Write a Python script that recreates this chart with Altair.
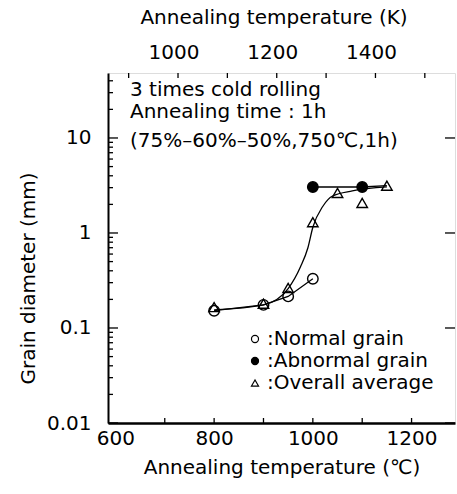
import math

import altair as alt
import pandas as pd

# Measured grain diameters (mm) against annealing temperature (degC)
normal_t = [800, 900, 950, 1000]
normal_d = [0.152, 0.175, 0.215, 0.33]
abnormal_t = [1000, 1100]
abnormal_d = [3.05, 3.05]
overall_t = [800, 900, 950, 1000, 1050, 1100, 1150]
overall_d = [0.166, 0.18, 0.264, 1.30, 2.64, 2.07, 3.15]

# Hand-drawn trend curve through the overall averages
fit_t = [800, 900, 950, 975, 990, 1000, 1020, 1040, 1080, 1150]
fit_d = [0.155, 0.175, 0.26, 0.44, 0.70, 1.15, 1.9, 2.45, 2.77, 3.05]

series_names = ["Normal grain", "Abnormal grain", "Overall average"]

# Axis ticks
x_labels_c = [600, 800, 1000, 1200]
x_ticks_c = [700, 800, 900, 1000, 1100, 1200]
x_labels_k = [1000, 1200, 1400]
x_ticks_k = [900, 1000, 1100, 1200, 1300, 1400, 1500]
y_major = [0.01, 0.1, 1, 10]
y_minor = [m * e for e in (0.01, 0.1, 1, 10) for m in range(2, 10) if m * e < 48]

FONT = "DejaVu Sans"
W, H = 347, 350
X_MIN, X_MAX = 585, 1288
Y_MIN, Y_MAX = 0.01, 48.3

x_c = alt.Scale(domain=[X_MIN, X_MAX], nice=False, zero=False)
y_s = alt.Scale(type="log", domain=[Y_MIN, Y_MAX], nice=False)

x_axis = alt.Axis(values=x_labels_c, format="d", ticks=False, grid=False,
                  domain=True, domainColor="black", domainWidth=2.5,
                  title="Annealing temperature (℃)", titleFont=FONT,
                  titleFontSize=20, titleFontWeight="normal", titleColor="black",
                  titlePadding=9, labelFont=FONT, labelFontSize=20,
                  labelColor="black", labelPadding=5)
y_axis = alt.Axis(values=y_major, format="~g", ticks=False, grid=False,
                  domain=True, domainColor="black", domainWidth=2,
                  title="Grain diameter (mm)", titleFont=FONT, titleFontSize=20,
                  titleFontWeight="normal", titleColor="black", titleX=-70,
                  titleY=205, labelFont=FONT, labelFontSize=20,
                  labelColor="black", labelPadding=17)


def X(field):
    return alt.X(field, type="quantitative", scale=x_c, axis=x_axis)


def Y(field):
    return alt.Y(field, type="quantitative", scale=y_s, axis=y_axis)


points = pd.DataFrame({
    "t": normal_t + abnormal_t + overall_t,
    "d": normal_d + abnormal_d + overall_d,
    "series": [series_names[0]] * len(normal_t)
    + [series_names[1]] * len(abnormal_t)
    + [series_names[2]] * len(overall_t),
})

legend = alt.Legend(title=None, orient="none", legendX=137, legendY=256,
                    labelExpr="':' + datum.label", labelFont=FONT,
                    labelFontSize=20, labelColor="black", labelOffset=2,
                    labelLimit=300, symbolSize=50, symbolStrokeWidth=1.2,
                    rowPadding=2, padding=0)

marks = alt.Chart(points).mark_point(
    filled=True, strokeWidth=1.4, size=110, opacity=1
).encode(
    x=X("t"), y=Y("d"),
    shape=alt.Shape("series:N", scale=alt.Scale(
        domain=series_names, range=["circle", "circle", "triangle-up"]),
        legend=legend),
    fill=alt.Fill("series:N", scale=alt.Scale(
        domain=series_names, range=["transparent", "black", "transparent"]),
        legend=legend),
    stroke=alt.Stroke("series:N", scale=alt.Scale(
        domain=series_names, range=["black", "black", "black"]),
        legend=legend),
)

# The abnormal-grain line runs on to the overall average at the last temperature
normal_line = alt.Chart(pd.DataFrame({"t": normal_t, "d": normal_d})).mark_line(
    color="black", strokeWidth=1.3).encode(x=X("t"), y=Y("d"))
abnormal_line = alt.Chart(pd.DataFrame({
    "t": abnormal_t + overall_t[-1:], "d": abnormal_d + overall_d[-1:]
})).mark_line(color="black", strokeWidth=1.3).encode(x=X("t"), y=Y("d"))
fit_line = alt.Chart(pd.DataFrame({"t": fit_t, "d": fit_d})).mark_line(
    color="black", strokeWidth=1.3, interpolate="monotone").encode(x=X("t"), y=Y("d"))

# Inward tick marks on the frame, as short two-point segments.
# Tick lengths are given in pixels and turned into data units of each scale.
LOG_SPAN = math.log10(Y_MAX / Y_MIN)
C_PER_PX = (X_MAX - X_MIN) / W


def up_from_bottom(px):
    return Y_MIN * 10 ** (px / H * LOG_SPAN)


def down_from_top(px):
    return Y_MAX / 10 ** (px / H * LOG_SPAN)


rows = []
for i, t in enumerate(x_ticks_c):
    rows += [("b%d" % i, t, Y_MIN), ("b%d" % i, t, up_from_bottom(5))]
for i, k in enumerate(x_ticks_k):
    c = k - 273.15
    rows += [("k%d" % i, c, Y_MAX), ("k%d" % i, c, down_from_top(5))]
for i, v in enumerate(y_major):
    rows += [("l%d" % i, X_MIN, v), ("l%d" % i, X_MIN + 10 * C_PER_PX, v)]
    rows += [("r%d" % i, X_MAX, v), ("r%d" % i, X_MAX - 10 * C_PER_PX, v)]
for i, v in enumerate(y_minor):
    rows += [("m%d" % i, X_MIN, v), ("m%d" % i, X_MIN + 5 * C_PER_PX, v)]
tick_df = pd.DataFrame(rows, columns=["tick", "t", "d"])

frame_ticks = alt.Chart(tick_df).mark_line(color="black", strokeWidth=1.3).encode(
    x=X("t"), y=Y("d"), detail="tick:N")

# Kelvin scale along the top edge, placed through the Celsius scale
top_labels = alt.Chart(pd.DataFrame({"k": x_labels_k})).transform_calculate(
    t="datum.k - 273.15"
).mark_text(font=FONT, fontSize=20, color="black", baseline="middle", dx=-4).encode(
    x=X("t"), y=alt.value(-20), text=alt.Text("k:Q", format="d"))
top_title = alt.Chart(pd.DataFrame({"txt": ["Annealing temperature (K)"]})).mark_text(
    font=FONT, fontSize=20, color="black", baseline="middle", align="center"
).encode(text="txt:N", x=alt.value(166), y=alt.value(-55))

notes = [
    ("3 times cold rolling", 23),
    ("Annealing time : 1h", 45),
    ("(75%–60%–50%,750℃,1h)", 74),
]
note_layers = [
    alt.Chart(pd.DataFrame({"txt": [txt]})).mark_text(
        align="left", baseline="alphabetic", font=FONT, fontSize=20, color="black"
    ).encode(text="txt:N", x=alt.value(22), y=alt.value(yy))
    for txt, yy in notes
]

chart = alt.layer(
    fit_line, normal_line, abnormal_line, frame_ticks, top_labels, top_title,
    marks, *note_layers
).properties(
    width=W, height=H,
    autosize=alt.AutoSizeParams(type="none"),
    padding={"left": 108, "top": 73, "right": 2, "bottom": 71},
).configure_view(stroke="black", strokeWidth=1.5).configure(background="white")

chart.save("out.html", embed_options={"renderer": "svg", "actions": False})
